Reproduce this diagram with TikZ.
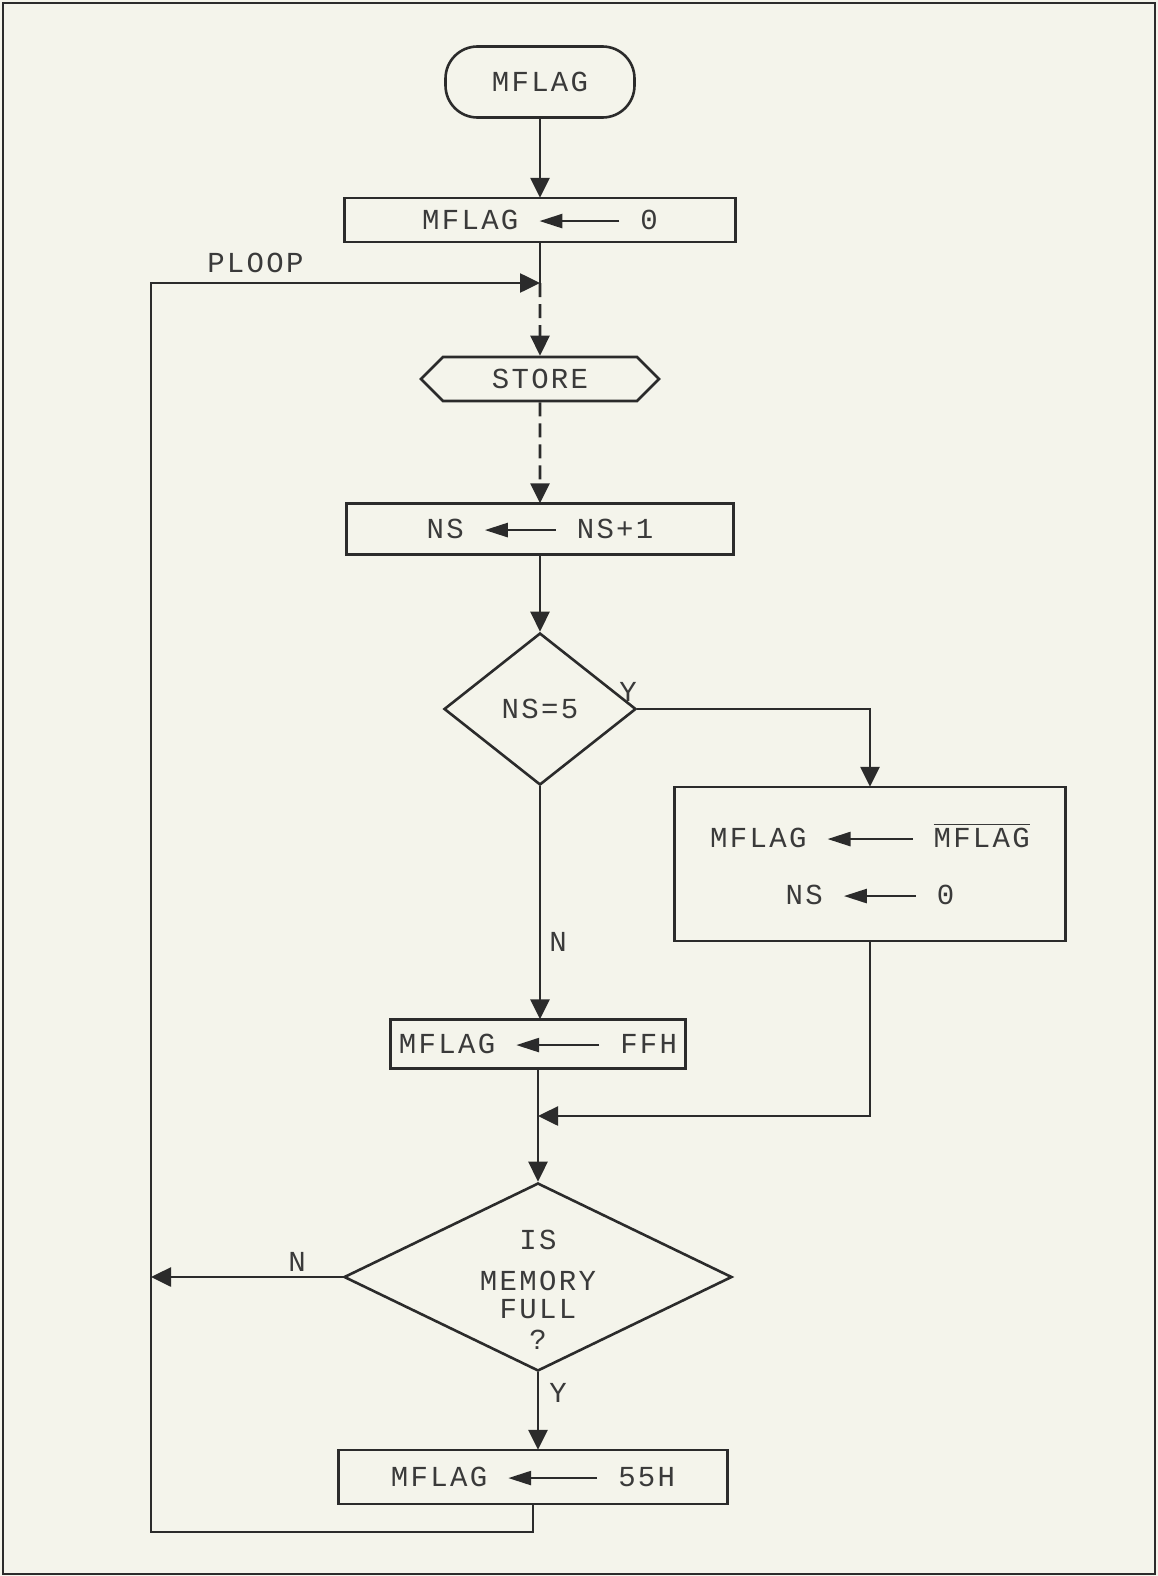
\documentclass[tikz,border=0pt]{standalone}
\usepackage{xcolor}
\usepackage{amsmath}
\usepackage{fontspec}
\setmonofont{Liberation Mono}[LetterSpace=8]
\usepackage{tikz}
\usetikzlibrary{shapes}
\usetikzlibrary{arrows.meta}
\usetikzlibrary{calc}
\usetikzlibrary{positioning}

\definecolor{paper}{HTML}{F4F4EB}
\definecolor{ink}{HTML}{2B2B2B}
\definecolor{type}{HTML}{3A3A3A}

\newcommand{\getsarrow}[1][80]{\tikz[baseline=-8.5pt,x=1pt,y=1pt]\draw[ink,line width=2.6pt,-{Triangle[length=23pt,width=14pt]}] (#1,0) -- (0,0);}

\begin{document}
\begin{tikzpicture}[
		x=1pt,
		y=-1pt,
		/utils/exec={\ttfamily},
		font=\fontsize{29pt}{34pt}\selectfont,
		>={Triangle[length=20pt,width=19pt]},
		line width=2.6pt,
		color=ink,
	]
		\tikzset{actbox/.style={
			draw,
			rectangle,
			inner sep=0,
			text=type,
		}}
		\tikzset{testbox/.style={
			draw,
			diamond,
			inner sep=0,
			text=type,
		}}
		\tikzset{flagtext/.style={
			inner sep=0,
			text=type,
		}}

		\fill[paper] (0,0) rectangle (1158,1576);
		\useasboundingbox (0,0) rectangle (1158,1576);
		\draw[line width=2pt] (3,3) rectangle (1155,1574);

		%---------------------------------
		% Entry
		\node[
			actbox,
			rounded corners=32,
			minimum width=189,
			minimum height=71,
		] (mflag) at (540,82) {MFLAG};
		\node[
			actbox,
			minimum width=391,
			minimum height=44,
		] (clear) at (540,220) {MFLAG \getsarrow{} 0};

		\draw[->] (mflag) -- (clear);

		%---------------------------------
		% Loop
		\coordinate (ploop) at (540,283);
		\node[
			flagtext,
			anchor=base west,
		] (plooptext) at (206,272) {PLOOP};

		\node[
			actbox,
			signal,
			signal to=east and west,
			signal pointer angle=90,
			minimum width=238,
			minimum height=44,
		] (store) at (540,379) {STORE};
		\node[
			actbox,
			minimum width=387,
			minimum height=51,
		] (count) at (540,529) {NS \getsarrow[71]{} NS+1};

		\draw (clear) -- (ploop);
		\draw[->,dash pattern=on 14pt off 7pt] (ploop) -- (store);
		\draw[->,dash pattern=on 14pt off 7pt] (store) -- (count);

		%---------------------------------
		% NS=5
		\node[
			testbox,
			aspect=1.26,
			minimum width=192,
			minimum height=152,
		] (five) at (540,709) {NS=5};
		\node[
			actbox,
			align=center,
			minimum width=391,
			minimum height=154,
		] (toggle) at (870,864) {MFLAG \getsarrow[85]{} \(\overline{\hbox{MFLAG}}\)\\[23pt]NS \getsarrow[72]{} 0};
		\node[
			actbox,
			minimum width=295,
			minimum height=49,
		] (ffh) at (538,1044) {MFLAG \getsarrow[83]{} FFH};
		\coordinate (merge) at (538,1116);

		\node[flagtext, anchor=base] (yesfive) at (628,701) {Y};
		\node[flagtext, anchor=base west] (nofive) at (548,951) {N};

		\draw[->] (count) -- (five);
		\draw[->] (five.east) -| (toggle.north);
		\draw[->] (five) -- (five |- ffh.north);
		\draw[->] (toggle.south) |- (merge);

		%---------------------------------
		% Memory full
		\node[
			testbox,
			align=center,
			aspect=2.1,
			inner sep=-14pt,
			minimum width=388,
			minimum height=188,
		] (memfull) at (538,1277) {\rule{0pt}{45pt}IS\\[7pt]MEMORY\\[-6pt]FULL\\[-3pt]?};
		\node[
			actbox,
			minimum width=389,
			minimum height=54,
		] (setok) at (533,1477) {MFLAG \getsarrow[89]{} 55H};
		\coordinate (back) at (151,1532);

		\node[flagtext, anchor=base] (nofull) at (297,1271) {N};
		\node[flagtext, anchor=base west] (yesfull) at (548,1402) {Y};

		\draw[->] (ffh) -- (memfull);
		\draw[->] (memfull.west) -- (memfull.west -| back);
		\draw[->] (memfull.south) -- (memfull.south |- setok.north);
		\draw[->] (setok.south) |- (back) |- (ploop);
	\end{tikzpicture}
\end{document}
